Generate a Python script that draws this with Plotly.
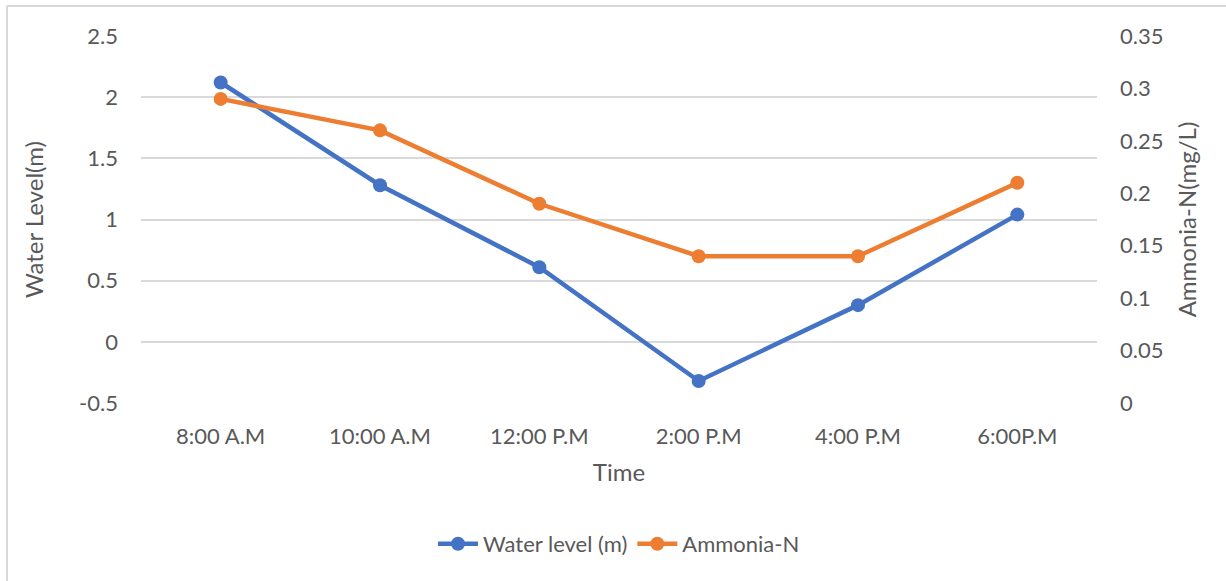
import plotly.graph_objects as go

# Sampling times and measured series
times = ["8:00 A.M", "10:00 A.M", "12:00 P.M", "2:00 P.M", "4:00 P.M", "6:00P.M"]
water_level = [2.12, 1.28, 0.61, -0.32, 0.30, 1.04]
ammonia_n = [0.29, 0.26, 0.19, 0.14, 0.14, 0.21]

# Axis ticks
left_ticks = [-0.5, 0, 0.5, 1, 1.5, 2, 2.5]
left_tick_text = ["-0.5", "0", "0.5", "1", "1.5", "2", "2.5"]
right_ticks = [0, 0.05, 0.1, 0.15, 0.2, 0.25, 0.3, 0.35]
right_tick_text = ["0", "0.05", "0.1", "0.15", "0.2", "0.25", "0.3", "0.35"]

BLUE = "#4472C4"
ORANGE = "#ED7D31"
TEXT = "#595959"
GRID = "#D9D9D9"
FONT = "Lato, Carlito, Calibri, sans-serif"

W, H = 1226, 581
ML, MR, MT, MB = 141, 129, 36, 178
PW, PH = W - ML - MR, H - MT - MB

fig = go.Figure()
fig.add_trace(go.Scatter(
    x=times, y=water_level, name="Water level (m)", mode="lines+markers",
    line=dict(color=BLUE, width=4.5), marker=dict(size=14, color=BLUE),
    yaxis="y",
))
fig.add_trace(go.Scatter(
    x=times, y=ammonia_n, name="Ammonia-N", mode="lines+markers",
    line=dict(color=ORANGE, width=4.5), marker=dict(size=14, color=ORANGE),
    yaxis="y2",
))

# Chart frame (left and top edges)
def px_x(p):
    return (p - ML) / PW

def px_y(p):
    return 1 - (p - MT) / PH

fig.add_shape(type="line", xref="paper", yref="paper",
              x0=px_x(7), x1=px_x(W + 5), y0=px_y(6), y1=px_y(6),
              line=dict(color=GRID, width=2))
fig.add_shape(type="line", xref="paper", yref="paper",
              x0=px_x(7), x1=px_x(7), y0=px_y(6), y1=px_y(H + 5),
              line=dict(color=GRID, width=2))

fig.update_layout(
    width=W, height=H,
    margin=dict(l=ML, r=MR, t=MT, b=MB),
    paper_bgcolor="white", plot_bgcolor="white",
    font=dict(family=FONT, color=TEXT, size=22),
    showlegend=True,
    legend=dict(orientation="h", x=0.5, xanchor="center", y=px_y(544), yanchor="middle",
                font=dict(size=22, color=TEXT), itemwidth=40, tracegroupgap=0),
    xaxis=dict(
        type="category", range=[-0.5, 5.5], showgrid=False, showline=False,
        ticks="", ticklabelstandoff=18, tickfont=dict(size=22, color=TEXT),
        title=dict(text="Time", font=dict(size=24, color=TEXT), standoff=16),
    ),
    yaxis=dict(
        range=[-0.5, 2.5], tickvals=left_ticks, ticktext=left_tick_text,
        showgrid=True, gridcolor=GRID, gridwidth=2, zeroline=False, showline=False,
        ticks="", ticklabelstandoff=22, tickfont=dict(size=22, color=TEXT),
        title=dict(text="Water Level(m)", font=dict(size=24, color=TEXT), standoff=28),
    ),
    yaxis2=dict(
        range=[0, 0.35], tickvals=right_ticks, ticktext=right_tick_text,
        overlaying="y", side="right", showgrid=False, zeroline=False, showline=False,
        ticks="", ticklabelstandoff=22, tickfont=dict(size=22, color=TEXT),
        title=dict(text="Ammonia-N(mg/L)", font=dict(size=24, color=TEXT), standoff=16),
    ),
)

fig.write_html("out.html")
